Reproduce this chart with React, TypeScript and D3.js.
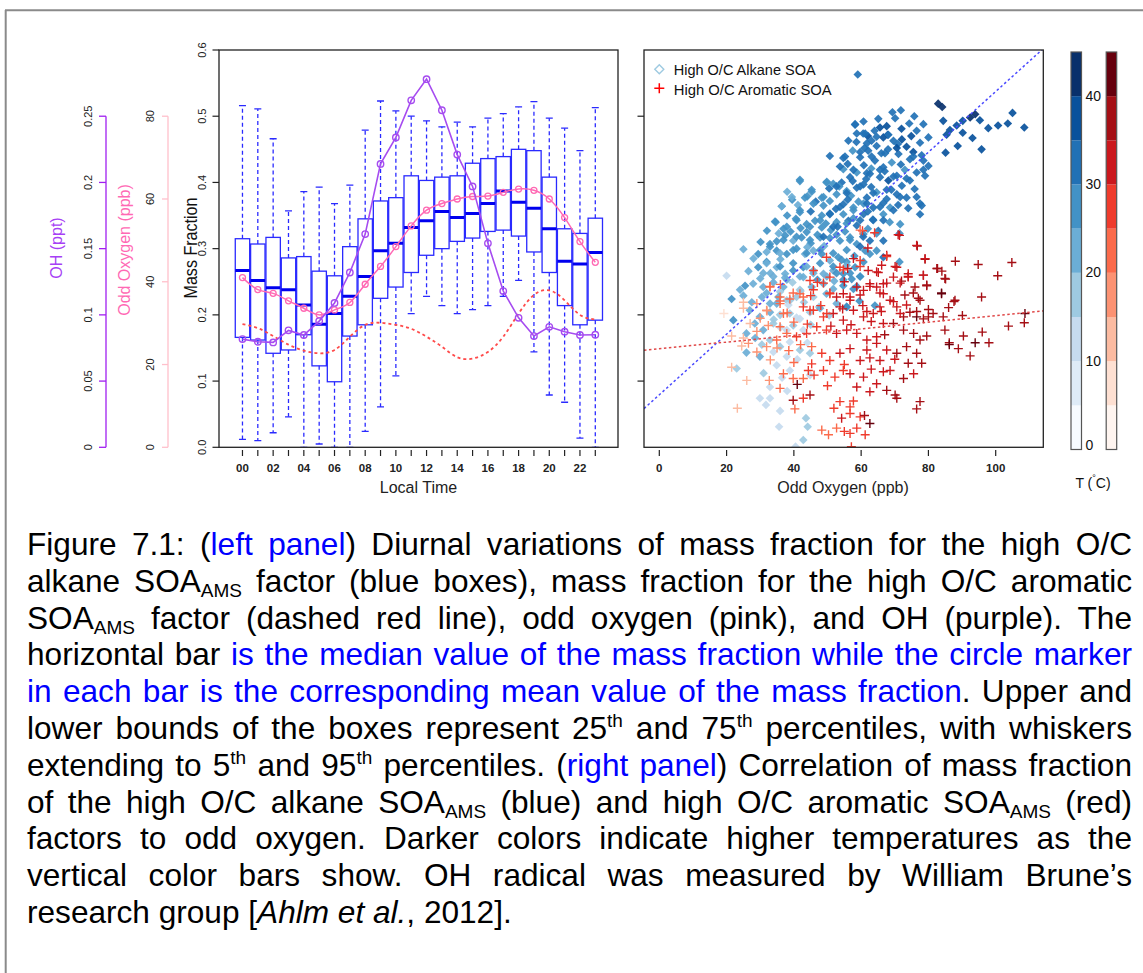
import React, { useLayoutEffect, useRef } from "react";
import * as d3 from "d3";

// ---------------- data: left panel (diurnal) ----------------
const hours = [0, 1, 2, 3, 4, 5, 6, 7, 8, 9, 10, 11, 12, 13, 14, 15, 16, 17, 18, 19, 20, 21, 22, 23];
const hourTickLabels = ["00", "02", "04", "06", "08", "10", "12", "14", "16", "18", "20", "22"];
const whiskerLow = [0.012, 0.010, 0.022, 0.046, 0.0, 0.005, 0.0, 0.0, 0.024, 0.061, 0.108, 0.202, 0.228, 0.214, 0.202, 0.208, 0.214, 0.228, 0.252, 0.144, 0.079, 0.068, 0.014, 0.0];
const quartile1 = [0.166, 0.162, 0.142, 0.147, 0.170, 0.123, 0.099, 0.168, 0.185, 0.225, 0.242, 0.264, 0.290, 0.300, 0.311, 0.316, 0.326, 0.328, 0.319, 0.295, 0.264, 0.214, 0.185, 0.192];
const medianFraction = [0.267, 0.252, 0.241, 0.238, 0.215, 0.186, 0.202, 0.228, 0.258, 0.297, 0.308, 0.332, 0.342, 0.356, 0.347, 0.353, 0.368, 0.387, 0.370, 0.361, 0.330, 0.281, 0.277, 0.294];
const quartile3 = [0.315, 0.307, 0.317, 0.286, 0.288, 0.266, 0.259, 0.303, 0.345, 0.372, 0.377, 0.410, 0.403, 0.408, 0.410, 0.429, 0.436, 0.439, 0.450, 0.448, 0.408, 0.330, 0.323, 0.346];
const whiskerHigh = [0.516, 0.511, 0.466, 0.357, 0.386, 0.393, 0.368, 0.396, 0.479, 0.523, 0.508, 0.500, 0.493, 0.484, 0.491, 0.484, 0.497, 0.504, 0.514, 0.522, 0.497, 0.482, 0.448, 0.513];
const ohPpt = [0.0817, 0.0797, 0.0792, 0.0883, 0.0848, 0.0953, 0.109, 0.132, 0.161, 0.214, 0.234, 0.262, 0.278, 0.2545, 0.221, 0.197, 0.154, 0.118, 0.0978, 0.084, 0.091, 0.0873, 0.0848, 0.085];
const oddOxygenPpb = [41.0, 38.1, 37.2, 35.4, 33.6, 32.0, 33.2, 35.0, 39.4, 43.7, 48.5, 53.5, 57.3, 58.9, 60.0, 60.6, 60.7, 61.6, 62.4, 62.1, 60.0, 55.5, 49.7, 44.7];
const aromaticFraction = [0.186, 0.180, 0.168, 0.155, 0.146, 0.142, 0.147, 0.167, 0.185, 0.188, 0.185, 0.179, 0.167, 0.152, 0.136, 0.134, 0.144, 0.167, 0.202, 0.230, 0.237, 0.222, 0.200, 0.193];

const massTicks = [0, 0.1, 0.2, 0.3, 0.4, 0.5, 0.6];
const ohTicks = [0, 0.05, 0.1, 0.15, 0.2, 0.25];
const ohTickLabels = ["0", "0.05", "0.1", "0.15", "0.2", "0.25"];
const oxTicks = [0, 20, 40, 60, 80];

// ---------------- data: right panel (scatter) ----------------
const scatterXTicks = [0, 20, 40, 60, 80, 100];
const scatterYTicks = [0.1, 0.2, 0.3, 0.4, 0.5];
const tempTicks = [0, 10, 20, 30, 40];
const tempBandStarts = [0, 5, 10, 15, 20, 25, 30, 35, 40];
const bluesPalette = ["#f7fbff", "#deebf7", "#c6dbef", "#9ecae1", "#6baed6", "#4292c6", "#2171b5", "#08519c", "#08306b"];
const redsPalette = ["#fff5f0", "#fee0d2", "#fcbba1", "#fc9272", "#fb6a4a", "#ef3b2c", "#cb181d", "#a50f15", "#67000d"];
const alkaneFit = [0.0793, 0.00458]; // intercept, slope
const aromaticFit = [0.1489, 0.0005];

// [odd oxygen ppb, mass fraction, temperature °C]
const alkanePoints: [number, number, number][] = [
  [59.0, 0.563, 33],
  [82.9, 0.519, 42], [84.1, 0.514, 44], [93.9, 0.503, 44], [105.0, 0.505, 38], [108.5, 0.483, 39], [103.6, 0.489, 37], [100.7, 0.486, 37], [97.8, 0.482, 38], [95.3, 0.494, 38], [92.4, 0.498, 40], [90.2, 0.493, 37], [88.4, 0.486, 38], [86.4, 0.479, 37], [85.4, 0.472, 38], [85.1, 0.445, 36], [88.7, 0.455, 38], [90.2, 0.475, 37], [93.1, 0.467, 38], [95.8, 0.450, 38], [84.4, 0.493, 36],
  [71.8, 0.509, 34], [69.3, 0.506, 33], [65.1, 0.496, 32], [75.8, 0.500, 33], [70.1, 0.497, 34], [60.7, 0.492, 30], [67.6, 0.485, 36], [74.3, 0.489, 33], [78.5, 0.488, 34], [65.6, 0.483, 37], [58.2, 0.487, 31], [64.0, 0.478, 34], [62.0, 0.470, 35], [72.0, 0.481, 35],
  [58.7, 0.474, 30], [61.2, 0.474, 32], [76.5, 0.478, 34], [66.6, 0.468, 35], [69.6, 0.463, 33], [72.1, 0.465, 36], [77.5, 0.460, 34], [80.0, 0.468, 33], [56.2, 0.463, 30], [63.1, 0.463, 31], [67.9, 0.472, 37], [70.9, 0.458, 32], [74.9, 0.470, 36],
  [64.6, 0.455, 33], [73.5, 0.454, 35], [57.5, 0.448, 29], [54.7, 0.437, 31], [50.7, 0.440, 30], [71.1, 0.443, 31], [68.0, 0.450, 34], [61.0, 0.452, 33], [75.5, 0.446, 36], [78.0, 0.441, 33], [66.0, 0.444, 31], [59.7, 0.438, 32], [62.1, 0.448, 31],
  [64.1, 0.433, 30], [66.6, 0.423, 33], [69.1, 0.430, 29], [74.5, 0.435, 32], [78.5, 0.433, 33], [80.0, 0.425, 31], [56.0, 0.428, 30], [60.8, 0.426, 31], [71.8, 0.427, 34], [63.0, 0.421, 28],
  [76.5, 0.415, 31], [79.0, 0.410, 32], [74.5, 0.403, 30], [72.1, 0.395, 33], [70.6, 0.410, 31], [68.1, 0.403, 35], [65.6, 0.408, 31], [62.6, 0.413, 33], [60.7, 0.397, 30], [58.7, 0.415, 29], [56.7, 0.408, 32], [54.7, 0.420, 28], [54.2, 0.400, 30], [51.7, 0.398, 27], [49.7, 0.400, 29], [41.8, 0.402, 26], [61.5, 0.405, 34], [67.0, 0.417, 30], [73.0, 0.419, 29], [57.5, 0.402, 31],
  [52.7, 0.382, 28], [55.7, 0.387, 29], [58.7, 0.392, 30], [61.7, 0.377, 32], [64.6, 0.385, 28], [67.6, 0.375, 30], [70.6, 0.382, 31], [73.5, 0.377, 33], [75.9, 0.390, 30], [48.3, 0.377, 28], [45.3, 0.386, 27], [50.5, 0.391, 30], [53.5, 0.394, 27], [57.0, 0.380, 26], [63.0, 0.393, 30], [69.0, 0.389, 34], [38.0, 0.386, 22], [44.0, 0.379, 26],
  [78.0, 0.365, 32], [68.6, 0.362, 29], [66.6, 0.369, 30], [63.6, 0.362, 31], [60.7, 0.368, 28], [57.7, 0.362, 27], [54.7, 0.367, 30], [50.7, 0.372, 26], [48.8, 0.365, 29], [43.3, 0.377, 28], [39.5, 0.374, 27], [36.4, 0.364, 25], [41.2, 0.366, 24], [46.5, 0.371, 30], [52.5, 0.360, 31], [56.0, 0.374, 33], [59.2, 0.371, 29], [62.0, 0.356, 31], [71.0, 0.366, 30], [74.0, 0.361, 33],
  [77.5, 0.352, 31], [71.6, 0.337, 29], [66.6, 0.352, 29], [60.7, 0.352, 30], [57.7, 0.346, 28], [34.6, 0.340, 26], [40.6, 0.345, 26], [41.8, 0.355, 25], [43.8, 0.337, 28], [46.3, 0.342, 27], [48.3, 0.350, 29], [50.7, 0.352, 30], [52.7, 0.340, 27], [54.7, 0.352, 29], [56.2, 0.342, 31], [38.0, 0.350, 27], [45.0, 0.356, 30], [49.5, 0.338, 26], [63.5, 0.344, 30], [68.5, 0.340, 28],
  [36.9, 0.330, 26], [58.7, 0.335, 30], [48.3, 0.332, 27], [60.7, 0.322, 29], [65.1, 0.327, 30], [43.8, 0.325, 28], [47.0, 0.321, 26], [51.0, 0.328, 29], [53.0, 0.333, 31], [39.0, 0.326, 25], [42.0, 0.331, 29], [55.2, 0.326, 28], [62.0, 0.330, 26], [71.4, 0.323, 29], [35.5, 0.323, 24], [32.0, 0.327, 27],
  [62.6, 0.312, 30], [66.6, 0.312, 30], [64.6, 0.297, 29], [61.2, 0.297, 28], [58.7, 0.307, 27], [56.7, 0.317, 28], [53.7, 0.312, 29], [50.7, 0.316, 27], [47.8, 0.317, 28], [45.0, 0.308, 26], [42.3, 0.317, 27], [39.8, 0.312, 24], [37.4, 0.320, 26], [34.9, 0.311, 25], [32.9, 0.307, 27], [30.1, 0.310, 28], [25.0, 0.299, 20], [44.0, 0.302, 24], [49.0, 0.304, 22],
  [29.4, 0.292, 26], [31.9, 0.295, 24], [34.9, 0.297, 27], [37.9, 0.292, 26], [40.8, 0.300, 25], [43.3, 0.292, 23], [45.8, 0.297, 24], [48.3, 0.292, 26], [53.2, 0.287, 27], [62.6, 0.292, 28], [66.6, 0.287, 30], [50.7, 0.282, 22], [55.7, 0.280, 25], [36.0, 0.284, 21], [28.0, 0.285, 24], [58.0, 0.289, 26],
  [29.4, 0.272, 25], [31.9, 0.280, 27], [34.9, 0.272, 24], [39.8, 0.267, 26], [42.8, 0.272, 27], [45.8, 0.267, 22], [48.8, 0.262, 24], [51.7, 0.267, 20], [54.7, 0.262, 25], [58.2, 0.272, 26], [60.7, 0.280, 28], [71.4, 0.280, 27], [55.7, 0.275, 23], [37.4, 0.262, 23], [26.5, 0.266, 24], [33.0, 0.263, 22],
  [37.4, 0.256, 24], [57.2, 0.254, 25], [59.7, 0.258, 26], [20.0, 0.259, 14], [42.8, 0.257, 20], [47.0, 0.253, 26], [30.0, 0.255, 23], [52.0, 0.251, 23],
  [25.5, 0.244, 25], [27.9, 0.247, 24], [30.9, 0.242, 23], [33.9, 0.249, 22], [36.9, 0.242, 20], [39.6, 0.249, 18], [45.3, 0.242, 22], [48.8, 0.247, 24], [51.7, 0.239, 23], [54.7, 0.244, 25], [57.7, 0.239, 27], [42.0, 0.236, 17], [35.9, 0.235, 18], [24.0, 0.238, 22],
  [21.5, 0.224, 25], [25.0, 0.229, 23], [27.5, 0.219, 22], [30.5, 0.227, 24], [32.9, 0.217, 21], [35.4, 0.227, 20], [37.9, 0.222, 16], [40.8, 0.227, 18], [45.8, 0.227, 19], [49.7, 0.232, 21], [52.7, 0.217, 22], [55.7, 0.212, 30], [64.1, 0.214, 25], [38.4, 0.215, 14], [43.0, 0.219, 15], [47.5, 0.212, 17], [59.5, 0.221, 29],
  [22.0, 0.192, 25], [26.9, 0.207, 22], [29.9, 0.197, 23], [32.9, 0.204, 21], [35.9, 0.200, 17], [38.8, 0.202, 15], [41.8, 0.194, 14], [44.8, 0.204, 16], [47.8, 0.210, 20], [40.8, 0.196, 13], [34.0, 0.193, 15], [50.5, 0.199, 18],
  [28.4, 0.187, 22], [30.9, 0.177, 20], [33.9, 0.187, 16], [37.9, 0.177, 14], [39.8, 0.184, 15], [42.8, 0.177, 13], [25.9, 0.172, 21], [36.0, 0.181, 12], [45.0, 0.185, 16],
  [32.9, 0.162, 19], [35.9, 0.152, 15], [38.8, 0.159, 13], [41.8, 0.147, 16], [28.5, 0.165, 20], [44.0, 0.158, 13], [30.5, 0.155, 18],
  [25.9, 0.143, 22], [29.9, 0.137, 20], [33.9, 0.144, 14], [37.9, 0.137, 12], [44.8, 0.142, 16], [41.0, 0.133, 14],
  [23.0, 0.119, 18], [34.9, 0.124, 13], [38.8, 0.116, 11], [44.8, 0.109, 14], [31.0, 0.112, 15], [36.5, 0.105, 12],
  [32.9, 0.091, 14], [29.9, 0.074, 12], [32.9, 0.074, 13], [31.7, 0.064, 11], [38.0, 0.085, 14],
  [35.9, 0.055, 13], [43.6, 0.044, 15], [35.6, 0.031, 14], [44.1, 0.031, 16], [42.8, 0.011, 15], [40.5, 0.001, 14],
  // denser core, read from a close-up of the central cloud
  [58.2, 0.488, 32], [60.6, 0.474, 33], [58.6, 0.461, 31], [61.7, 0.459, 34], [64.6, 0.469, 32], [68.1, 0.472, 33], [70.6, 0.452, 35], [67.1, 0.444, 32],
  [63.1, 0.439, 33], [59.7, 0.446, 31], [55.2, 0.439, 30], [53.7, 0.424, 31], [57.7, 0.419, 32], [61.7, 0.414, 31], [65.6, 0.419, 33], [69.6, 0.409, 32],
  [73.5, 0.406, 34], [75.5, 0.439, 33], [78.5, 0.419, 34], [77.5, 0.368, 31], [76.5, 0.378, 32], [49.8, 0.401, 28], [48.8, 0.378, 27], [52.7, 0.394, 30],
  [55.7, 0.384, 31], [59.7, 0.394, 30], [63.6, 0.384, 32], [67.6, 0.389, 31], [71.6, 0.378, 32], [69.6, 0.358, 30], [65.6, 0.363, 31], [61.7, 0.368, 30],
  [57.7, 0.358, 29], [53.7, 0.363, 31], [50.7, 0.353, 30], [45.8, 0.368, 28], [41.8, 0.358, 27], [39.4, 0.378, 24], [45.3, 0.389, 29], [41.8, 0.404, 27],
  [36.4, 0.364, 23], [34.4, 0.341, 25], [37.9, 0.333, 27], [40.8, 0.343, 28], [44.8, 0.333, 27], [47.8, 0.343, 29], [51.7, 0.333, 30], [55.7, 0.338, 28],
  [59.7, 0.343, 31], [63.6, 0.343, 30], [66.6, 0.343, 31], [64.6, 0.323, 29], [60.6, 0.318, 30], [56.7, 0.313, 28], [52.7, 0.321, 29], [48.8, 0.318, 30],
  [44.8, 0.313, 27], [40.8, 0.318, 28], [36.9, 0.313, 26], [32.9, 0.303, 25], [35.9, 0.293, 24], [39.8, 0.298, 27], [43.8, 0.293, 26], [47.8, 0.298, 28],
  [51.7, 0.293, 27], [55.7, 0.298, 29], [59.7, 0.303, 30], [31.9, 0.278, 23], [35.9, 0.273, 25], [39.8, 0.278, 26], [43.8, 0.273, 24], [47.8, 0.278, 27],
  [51.7, 0.273, 26], [54.2, 0.283, 28], [56.7, 0.263, 27], [59.7, 0.258, 29], [54.7, 0.253, 26], [52.7, 0.263, 25], [49.8, 0.258, 24], [45.8, 0.263, 23],
  [41.8, 0.258, 22], [37.9, 0.253, 21], [33.9, 0.258, 23], [30.9, 0.263, 24], [55.7, 0.212, 29], [58.7, 0.243, 28], [41.8, 0.238, 19], [38.9, 0.222, 17],
  [31.9, 0.233, 22], [34.9, 0.217, 20],
];

const aromaticPoints: [number, number, number][] = [
  [60.4, 0.327, 29], [71.4, 0.320, 33], [64.0, 0.324, 28],
  [76.7, 0.304, 36], [62.0, 0.301, 30],
  [79.0, 0.284, 35], [94.8, 0.276, 37], [104.8, 0.279, 38], [67.6, 0.290, 30], [59.7, 0.282, 29], [57.7, 0.285, 31], [49.7, 0.287, 27], [88.0, 0.281, 36],
  [100.6, 0.259, 37], [82.7, 0.270, 35], [70.6, 0.272, 33], [53.7, 0.272, 28], [45.8, 0.267, 25], [62.1, 0.267, 30], [65.1, 0.264, 33], [78.5, 0.260, 36], [74.0, 0.262, 34], [56.0, 0.270, 32], [84.0, 0.266, 37],
  [85.1, 0.254, 37], [74.0, 0.257, 33], [79.5, 0.244, 36], [76.0, 0.242, 35], [69.6, 0.257, 32], [66.6, 0.247, 31], [50.7, 0.257, 27], [44.8, 0.252, 26], [62.6, 0.247, 34], [64.6, 0.242, 30], [58.7, 0.242, 31], [32.9, 0.242, 23], [36.0, 0.246, 24], [47.0, 0.249, 29], [55.0, 0.250, 30], [72.0, 0.251, 36],
  [83.9, 0.232, 44], [87.6, 0.220, 38], [95.8, 0.227, 39], [60.7, 0.237, 32], [56.7, 0.227, 31], [54.7, 0.232, 30], [52.7, 0.227, 33], [50.7, 0.232, 29], [41.8, 0.232, 24], [38.8, 0.224, 22], [68.6, 0.222, 34], [66.6, 0.232, 31], [73.0, 0.230, 36], [77.0, 0.225, 37], [45.0, 0.229, 27], [35.9, 0.221, 22], [29.0, 0.217, 15], [25.0, 0.219, 14],
  [90.1, 0.199, 38], [108.7, 0.202, 40], [84.4, 0.197, 39], [74.5, 0.204, 35], [70.6, 0.212, 33], [42.8, 0.212, 25], [45.8, 0.207, 27], [51.7, 0.202, 30], [57.7, 0.207, 31], [63.6, 0.202, 33], [35.9, 0.217, 22], [19.2, 0.202, 8], [25.0, 0.210, 12], [32.0, 0.206, 18], [38.0, 0.203, 21], [48.0, 0.214, 28], [54.5, 0.209, 30], [60.5, 0.214, 32], [66.0, 0.205, 34], [80.0, 0.208, 37], [86.0, 0.211, 38],
  [108.5, 0.188, 38], [103.8, 0.183, 37], [80.0, 0.197, 36], [78.5, 0.194, 37], [76.5, 0.197, 41], [72.6, 0.197, 35], [48.8, 0.197, 28], [54.7, 0.192, 30], [60.7, 0.197, 31], [66.6, 0.187, 34], [69.6, 0.187, 36], [27.0, 0.187, 14], [32.4, 0.184, 17], [35.9, 0.182, 20], [40.0, 0.189, 24], [44.0, 0.186, 26], [51.0, 0.183, 30], [57.0, 0.185, 31], [63.0, 0.190, 33], [84.9, 0.177, 38], [30.0, 0.195, 16],
  [96.0, 0.174, 38], [90.4, 0.168, 39], [86.2, 0.158, 38], [75.6, 0.172, 36], [77.5, 0.162, 37], [79.5, 0.168, 37], [72.6, 0.177, 35], [58.7, 0.172, 32], [55.7, 0.177, 30], [52.7, 0.172, 31], [49.7, 0.177, 29], [46.8, 0.182, 27], [43.8, 0.172, 28], [40.8, 0.167, 26], [37.9, 0.172, 24], [34.9, 0.162, 20], [21.5, 0.168, 12], [61.7, 0.162, 33], [64.6, 0.167, 34], [29.0, 0.175, 16], [67.0, 0.170, 35], [25.0, 0.165, 13],
  [98.0, 0.158, 39], [93.9, 0.158, 42], [88.9, 0.149, 39], [86.2, 0.155, 40], [76.5, 0.142, 38], [73.5, 0.152, 36], [70.6, 0.142, 35], [67.6, 0.147, 33], [64.6, 0.157, 34], [61.7, 0.147, 33], [31.9, 0.152, 17], [29.0, 0.144, 16], [26.5, 0.157, 15], [24.5, 0.153, 14], [45.3, 0.152, 24], [48.3, 0.142, 26], [53.7, 0.142, 31], [56.7, 0.149, 30], [42.0, 0.155, 22], [38.5, 0.146, 21], [35.0, 0.150, 19],
  [92.4, 0.138, 38], [78.0, 0.127, 37], [50.7, 0.131, 28], [59.7, 0.131, 32], [62.6, 0.135, 31], [65.6, 0.131, 33], [45.3, 0.126, 25], [21.5, 0.121, 11], [33.0, 0.132, 17], [40.0, 0.128, 21], [55.0, 0.125, 29], [70.0, 0.133, 34], [74.0, 0.127, 35],
  [68.6, 0.116, 34], [66.6, 0.114, 33], [72.6, 0.104, 36], [75.6, 0.111, 33], [60.7, 0.106, 31], [56.7, 0.111, 30], [54.7, 0.116, 29], [52.2, 0.106, 28], [48.8, 0.116, 27], [44.3, 0.116, 25], [42.8, 0.104, 23], [39.8, 0.104, 21], [36.9, 0.111, 20], [32.7, 0.101, 18], [26.0, 0.101, 14], [63.0, 0.118, 32], [46.0, 0.109, 26],
  [64.6, 0.096, 33], [62.6, 0.084, 34], [58.7, 0.091, 31], [35.9, 0.089, 20], [67.6, 0.086, 36], [50.0, 0.093, 26], [41.0, 0.095, 40],
  [70.1, 0.079, 38], [70.6, 0.074, 36], [39.8, 0.071, 35], [44.8, 0.079, 37], [42.8, 0.074, 26], [53.7, 0.069, 27], [57.7, 0.070, 28], [77.5, 0.069, 37], [23.2, 0.059, 11], [56.7, 0.061, 27], [51.9, 0.059, 25], [76.5, 0.058, 38], [40.3, 0.058, 24],
  [54.2, 0.044, 34], [56.7, 0.051, 25], [59.7, 0.046, 29], [62.6, 0.036, 40], [61.0, 0.048, 35],
  [48.3, 0.026, 22], [50.3, 0.019, 23], [52.7, 0.029, 24], [56.7, 0.021, 26], [58.7, 0.029, 27], [61.2, 0.019, 27], [57.1, 0.001, 26], [55.0, 0.024, 25],
  // denser core, read from a close-up
  [59.7, 0.328, 24], [71.0, 0.321, 30], [76.5, 0.305, 33], [79.0, 0.285, 32], [67.6, 0.288, 28], [66.1, 0.275, 30], [70.1, 0.273, 31], [82.5, 0.270, 36],
  [84.9, 0.255, 37], [78.5, 0.260, 34], [74.0, 0.258, 33], [71.6, 0.248, 32], [67.6, 0.248, 31], [64.6, 0.265, 30], [59.7, 0.273, 29], [54.7, 0.268, 28],
  [79.5, 0.245, 35], [83.9, 0.233, 43], [87.9, 0.222, 37], [75.5, 0.233, 35], [77.5, 0.222, 36], [73.5, 0.215, 34], [69.6, 0.220, 33], [65.6, 0.233, 32],
  [62.6, 0.243, 31], [59.7, 0.230, 30], [56.7, 0.222, 31], [50.7, 0.233, 28], [48.8, 0.248, 27], [45.8, 0.238, 26], [42.8, 0.227, 24], [39.8, 0.233, 23],
  [35.9, 0.227, 21], [32.9, 0.243, 20], [31.9, 0.207, 18], [36.9, 0.202, 20], [44.8, 0.207, 26], [49.8, 0.202, 29], [53.7, 0.212, 30], [61.7, 0.205, 32],
  [65.6, 0.212, 33], [71.6, 0.202, 34], [76.5, 0.205, 36], [81.4, 0.202, 37],
];

// ---------------- caption text ----------------
type Seg = { t: string; blue?: boolean; sub?: boolean; sup?: boolean; it?: boolean };
const captionLines: Seg[][] = [
  [{ t: "Figure 7.1: (" }, { t: "left panel", blue: true }, { t: ") Diurnal variations of mass fraction for the high O/C" }],
  [{ t: "alkane SOA" }, { t: "AMS", sub: true }, { t: " factor (blue boxes), mass fraction for the high O/C aromatic" }],
  [{ t: "SOA" }, { t: "AMS", sub: true }, { t: " factor (dashed red line), odd oxygen (pink), and OH (purple). The" }],
  [{ t: "horizontal bar " }, { t: "is the median value of the mass fraction while the circle marker", blue: true }],
  [{ t: "in each bar is the corresponding mean value of the mass fraction", blue: true }, { t: ". Upper and" }],
  [{ t: "lower bounds of the boxes represent 25" }, { t: "th", sup: true }, { t: " and 75" }, { t: "th", sup: true }, { t: " percentiles, with whiskers" }],
  [{ t: "extending to 5" }, { t: "th", sup: true }, { t: " and 95" }, { t: "th", sup: true }, { t: " percentiles. (" }, { t: "right panel", blue: true }, { t: ") Correlation of mass fraction" }],
  [{ t: "of the high O/C alkane SOA" }, { t: "AMS", sub: true }, { t: " (blue) and high O/C aromatic SOA" }, { t: "AMS", sub: true }, { t: " (red)" }],
  [{ t: "factors to odd oxygen. Darker colors indicate higher temperatures as the" }],
  [{ t: "vertical color bars show. OH radical was measured by William Brune\u2019s" }],
  [{ t: "research group [" }, { t: "Ahlm et al.", it: true }, { t: ", 2012]." }],
];

const FONT = "'Liberation Sans', Arial, Helvetica, sans-serif";

export default function App() {
  const W = 1143;
  const H = 973;

  // left panel scales
  const xHour = d3.scaleLinear().domain([-1.53, 24.48]).range([219, 618]);
  const yMass = d3.scaleLinear().domain([0, 0.6]).range([447.3, 50]);
  const yOH = d3.scaleLinear().domain([0, 0.3]).range([447.3, 50]);
  const yOx = d3.scaleLinear().domain([0, 96]).range([447.3, 50]);

  // right panel scales
  const xOx = d3.scaleLinear().domain([-4.55, 114.15]).range([644, 1043.3]);
  const yT = d3.scaleLinear().domain([0, 45]).range([449.5, 52]);

  const bandIdx = (t: number) => Math.max(0, Math.min(8, Math.floor(t / 5)));

  const pinkLine = d3.line<number>().x((_, i) => xHour(hours[i])).y((d) => yOx(d)).curve(d3.curveNatural);
  const purpleLine = d3.line<number>().x((_, i) => xHour(hours[i])).y((d) => yOH(d));
  const redLine = d3.line<number>().x((_, i) => xHour(hours[i])).y((d) => yMass(d)).curve(d3.curveNatural);

  const boxColor = "#2a2aff";
  const half = 7.2;
  const cap = 3.5;

  const lineRefs = useRef<(SVGTextElement | null)[]>([]);
  const capLeft = 27;
  const capWidth = 1105;

  useLayoutEffect(() => {
    lineRefs.current.forEach((el, i) => {
      if (!el || i === captionLines.length - 1) return;
      const nat = el.getComputedTextLength();
      const txt = el.textContent || "";
      const spaces = (txt.match(/ /g) || []).length;
      if (spaces > 0) {
        el.style.wordSpacing = (capWidth - nat) / spaces + "px";
        const w2 = el.getComputedTextLength();
        if (Math.abs(w2 - capWidth) > 4) {
          el.style.wordSpacing = "";
          el.setAttribute("textLength", String(capWidth));
          el.setAttribute("lengthAdjust", "spacing");
        }
      }
    });
  }, []);

  const fitPath = (fit: number[]) => {
    const x0 = -4.55;
    const x1 = 114.15;
    return `M${xOx(x0)},${yMass(fit[0] + fit[1] * x0)}L${xOx(x1)},${yMass(fit[0] + fit[1] * x1)}`;
  };

  return (
    <svg
      width={W}
      height={H}
      viewBox={`0 0 ${W} ${H}`}
      style={{ position: "absolute", left: 0, top: 0, background: "#fff", fontFamily: FONT }}
    >
      <defs>
        <clipPath id="rightClip">
          <rect x={644} y={50} width={1043.3 - 644} height={447.3 - 50} />
        </clipPath>
        <clipPath id="leftClip">
          <rect x={219} y={50} width={618 - 219} height={447.3 - 50} />
        </clipPath>
      </defs>
      <rect x={0} y={0} width={W} height={H} fill="#fff" />
      {/* outer frame */}
      <line x1={5} y1={10.3} x2={W} y2={10.3} stroke="#8a8a8a" strokeWidth={2} />
      <line x1={5.7} y1={10} x2={5.7} y2={H} stroke="#8a8a8a" strokeWidth={2} />

      {/* ---------- LEFT PANEL ---------- */}
      {/* OH axis */}
      <line x1={106} y1={yOH(0)} x2={106} y2={yOH(0.25)} stroke="#a020f0" strokeWidth={1.3} />
      {ohTicks.map((v, i) => (
        <g key={"oh" + i}>
          <line x1={99} x2={106} y1={yOH(v)} y2={yOH(v)} stroke="#a020f0" strokeWidth={1.3} />
          <text transform={`translate(91.5,${yOH(v)}) rotate(-90)`} textAnchor="middle" fontSize={11} fill="#222">
            {ohTickLabels[i]}
          </text>
        </g>
      ))}
      <text transform="translate(61.5,248) rotate(-90)" textAnchor="middle" fontSize={16} fill="#a640f5">
        OH (ppt)
      </text>

      {/* Odd oxygen axis */}
      <line x1={168} y1={yOx(0)} x2={168} y2={yOx(80)} stroke="#ffc0cb" strokeWidth={1.3} />
      {oxTicks.map((v) => (
        <g key={"ox" + v}>
          <line x1={162} x2={168} y1={yOx(v)} y2={yOx(v)} stroke="#ffc0cb" strokeWidth={1.3} />
          <text transform={`translate(154,${yOx(v)}) rotate(-90)`} textAnchor="middle" fontSize={11} fill="#222">
            {v}
          </text>
        </g>
      ))}
      <text transform="translate(130,250) rotate(-90)" textAnchor="middle" fontSize={16} fill="#ff69b4">
        Odd Oxygen (ppb)
      </text>

      {/* Mass fraction axis */}
      {massTicks.map((v) => (
        <g key={"mf" + v}>
          <line x1={212.5} x2={219} y1={yMass(v)} y2={yMass(v)} stroke="#222" strokeWidth={1.2} />
          <text transform={`translate(205.5,${yMass(v)}) rotate(-90)`} textAnchor="middle" fontSize={11} fill="#222">
            {v.toFixed(1)}
          </text>
        </g>
      ))}
      <text
        transform="translate(196.5,248) rotate(-90)"
        textAnchor="middle"
        fontSize={19}
        textLength={101}
        lengthAdjust="spacingAndGlyphs"
        fill="#111"
      >
        Mass Fraction
      </text>

      {/* boxes */}
      <g clipPath="url(#leftClip)">
        {hours.map((h, i) => {
          const cx = xHour(h);
          return (
            <g key={"box" + h}>
              <line x1={cx} x2={cx} y1={yMass(quartile3[i])} y2={yMass(whiskerHigh[i])} stroke={boxColor} strokeWidth={1.3} strokeDasharray="4,3" />
              <line x1={cx} x2={cx} y1={yMass(quartile1[i])} y2={yMass(whiskerLow[i])} stroke={boxColor} strokeWidth={1.3} strokeDasharray="4,3" />
              <line x1={cx - cap} x2={cx + cap} y1={yMass(whiskerHigh[i])} y2={yMass(whiskerHigh[i])} stroke={boxColor} strokeWidth={1.3} />
              <line x1={cx - cap} x2={cx + cap} y1={yMass(whiskerLow[i])} y2={yMass(whiskerLow[i])} stroke={boxColor} strokeWidth={1.3} />
              <rect
                x={cx - half}
                y={yMass(quartile3[i])}
                width={half * 2}
                height={yMass(quartile1[i]) - yMass(quartile3[i])}
                fill="none"
                stroke={boxColor}
                strokeWidth={1.3}
              />
              <line x1={cx - half} x2={cx + half} y1={yMass(medianFraction[i])} y2={yMass(medianFraction[i])} stroke="#0000ee" strokeWidth={3} />
            </g>
          );
        })}
        {/* aromatic fraction dashed red */}
        <path d={redLine(aromaticFraction) || ""} fill="none" stroke="#ff4a4a" strokeWidth={1.8} strokeDasharray="3,3" />
        {/* odd oxygen pink */}
        <path d={pinkLine(oddOxygenPpb) || ""} fill="none" stroke="#ff69b4" strokeWidth={1.5} />
        {oddOxygenPpb.map((v, i) => (
          <circle key={"pk" + i} cx={xHour(hours[i])} cy={yOx(v)} r={3} fill="none" stroke="#ff69b4" strokeWidth={1.3} />
        ))}
        {/* OH purple */}
        <path d={purpleLine(ohPpt) || ""} fill="none" stroke="#a64cf0" strokeWidth={1.6} />
        {ohPpt.map((v, i) => (
          <circle key={"pp" + i} cx={xHour(hours[i])} cy={yOH(v)} r={3.2} fill="none" stroke="#a64cf0" strokeWidth={1.4} />
        ))}
      </g>
      <rect x={219} y={50} width={618 - 219} height={447.3 - 50} fill="none" stroke="#222" strokeWidth={1.3} />
      {/* x axis */}
      {hours.map((h) => (
        <line key={"xt" + h} x1={xHour(h)} x2={xHour(h)} y1={450} y2={456} stroke="#222" strokeWidth={1.2} />
      ))}
      {hourTickLabels.map((lab) => (
        <text key={"xl" + lab} x={xHour(+lab)} y={472} textAnchor="middle" fontSize={11.5} fontWeight={700} fill="#222">
          {lab}
        </text>
      ))}
      <text x={418.5} y={493} textAnchor="middle" fontSize={16} fill="#222">
        Local Time
      </text>

      {/* ---------- RIGHT PANEL ---------- */}
      <g clipPath="url(#rightClip)">
        {alkanePoints.map((p, i) => {
          const x = xOx(p[0]);
          const y = yMass(p[1]);
          const s = 4.3;
          return (
            <path
              key={"a" + i}
              d={`M${x},${y - s}L${x + s},${y}L${x},${y + s}L${x - s},${y}Z`}
              fill={bluesPalette[bandIdx(p[2])]}
              fillOpacity={0.92}
            />
          );
        })}
        {aromaticPoints.map((p, i) => {
          const x = xOx(p[0]);
          const y = yMass(p[1]);
          const s = 4.5;
          return (
            <path
              key={"r" + i}
              d={`M${x - s},${y}H${x + s}M${x},${y - s}V${y + s}`}
              stroke={redsPalette[bandIdx(p[2])]}
              strokeWidth={1.4}
              fill="none"
            />
          );
        })}
        <path d={fitPath(alkaneFit)} stroke="#4a4aff" strokeWidth={1.5} strokeDasharray="2.5,2.5" fill="none" />
        <path d={fitPath(aromaticFit)} stroke="#e04848" strokeWidth={1.5} strokeDasharray="2.5,2.5" fill="none" />
      </g>
      <rect x={644} y={50} width={1043.3 - 644} height={447.3 - 50} fill="none" stroke="#222" strokeWidth={1.3} />
      {scatterYTicks.map((v) => (
        <line key={"syt" + v} x1={637.5} x2={644} y1={yMass(v)} y2={yMass(v)} stroke="#222" strokeWidth={1.2} />
      ))}
      {scatterXTicks.map((v) => (
        <g key={"sxt" + v}>
          <line x1={xOx(v)} x2={xOx(v)} y1={450} y2={456} stroke="#222" strokeWidth={1.2} />
          <text x={xOx(v)} y={472} textAnchor="middle" fontSize={11.5} fontWeight={700} fill="#222">
            {v}
          </text>
        </g>
      ))}
      <text x={843} y={492.5} textAnchor="middle" fontSize={16} fill="#222">
        Odd Oxygen (ppb)
      </text>

      {/* legend */}
      <path d="M659.3,64.8L663.8,69.3L659.3,73.8L654.8,69.3Z" fill="none" stroke="#9ecae1" strokeWidth={1.4} />
      <path d="M654.3,88.3H664.3M659.3,83.3V93.3" stroke="#ff0000" strokeWidth={1.5} fill="none" />
      <text x={673.7} y={75} fontSize={15.5} textLength={142} lengthAdjust="spacingAndGlyphs" fill="#111">
        High O/C Alkane SOA
      </text>
      <text x={673.7} y={95} fontSize={15.5} textLength={158} lengthAdjust="spacingAndGlyphs" fill="#111">
        High O/C Aromatic SOA
      </text>

      {/* colour bars */}
      {tempBandStarts.map((b, i) => (
        <g key={"band" + b}>
          <rect x={1071} y={yT(b + 5)} width={10.5} height={yT(b) - yT(b + 5)} fill={bluesPalette[i]} />
          <rect x={1106.2} y={yT(b + 5)} width={10.5} height={yT(b) - yT(b + 5)} fill={redsPalette[i]} />
        </g>
      ))}
      <rect x={1071} y={yT(45)} width={10.5} height={yT(0) - yT(45)} fill="none" stroke="#555" strokeWidth={1.2} />
      <rect x={1106.2} y={yT(45)} width={10.5} height={yT(0) - yT(45)} fill="none" stroke="#555" strokeWidth={1.2} />
      {tempTicks.map((v) => (
        <text key={"tt" + v} x={1085.5} y={yT(v) + (v === 0 ? 0 : 4.5)} fontSize={14} fill="#111">
          {v}
        </text>
      ))}
      <text x={1093} y={488} textAnchor="middle" fontSize={14} fill="#111">
        <tspan>T (</tspan>
        <tspan fontSize={9} dy={-7}>
          °
        </tspan>
        <tspan dy={7}>C)</tspan>
      </text>

      {/* ---------- CAPTION ---------- */}
      {captionLines.map((segs, li) => {
        let shift = 0;
        return (
          <text
            key={"cap" + li}
            ref={(el) => {
              lineRefs.current[li] = el;
            }}
            x={capLeft}
            y={555 + li * 36.8}
            fontSize={31.6}
            fill="#000"
            style={{ whiteSpace: "pre" }}
          >
            {segs.map((s, si) => {
              const target = s.sub ? 5 : s.sup ? -12 : 0;
              const dy = target - shift;
              shift = target;
              return (
                <tspan
                  key={si}
                  dy={dy !== 0 ? dy : undefined}
                  fill={s.blue ? "#0000ff" : "#000"}
                  fontSize={s.sub || s.sup ? 19 : undefined}
                  fontStyle={s.it ? "italic" : undefined}
                >
                  {s.t}
                </tspan>
              );
            })}
          </text>
        );
      })}
    </svg>
  );
}
